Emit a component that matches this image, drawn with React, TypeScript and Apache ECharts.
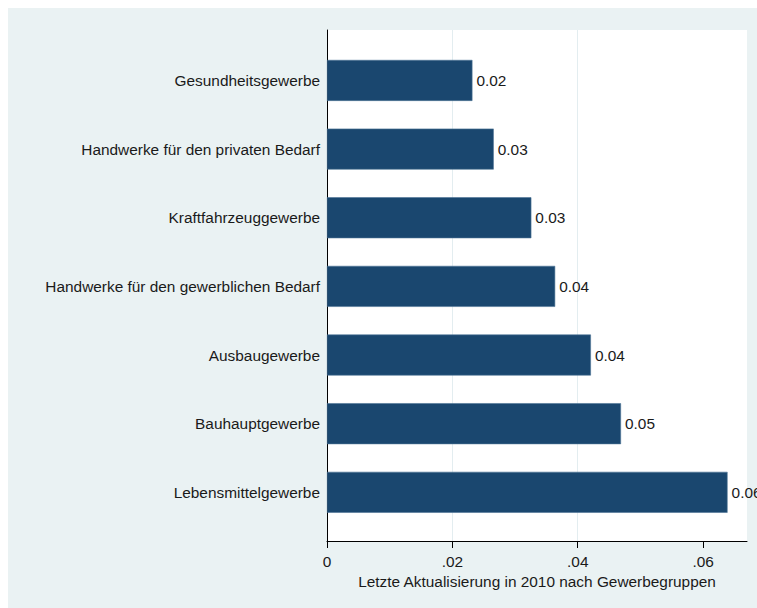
import React, { useEffect, useRef } from "react";
import * as echarts from "echarts";

const categories = [
  "Gesundheitsgewerbe",
  "Handwerke für den privaten Bedarf",
  "Kraftfahrzeuggewerbe",
  "Handwerke für den gewerblichen Bedarf",
  "Ausbaugewerbe",
  "Bauhauptgewerbe",
  "Lebensmittelgewerbe",
];
const values = [0.0232, 0.0266, 0.0326, 0.0364, 0.0421, 0.0469, 0.0639];
const tickValues = [0, 0.02, 0.04, 0.06];
const axisTitle = "Letzte Aktualisierung in 2010 nach Gewerbegruppen";

const FONT = "Liberation Sans, Arial, Helvetica, sans-serif";
const BG = "#EAF2F3";
const BAR = "#1A476F";
const FS = 15.4;

export default function App() {
  const ref = useRef<HTMLDivElement>(null);
  useEffect(() => {
    if (!ref.current) return;
    document.body.style.margin = "0";
    document.documentElement.style.overflow = "hidden";
    document.body.style.overflow = "hidden";
    const chart = echarts.init(ref.current, null, { renderer: "svg" });
    const gridLeft = 319;
    const gridTop = 22;
    const gridW = 420;
    const gridH = 511;
    const xMax = 0.067;
    const band = 68.65;
    const barTop = 38.1;
    chart.setOption({
      animation: false,
      backgroundColor: BG,
      grid: [
        {
          left: gridLeft,
          top: gridTop,
          width: gridW,
          height: gridH,
          show: true,
          backgroundColor: "#ffffff",
          borderWidth: 0,
        },
        {
          left: gridLeft,
          top: barTop,
          width: gridW,
          height: band * categories.length,
          show: false,
        },
      ],
      xAxis: [
        {
          gridIndex: 0,
          type: "value",
          min: 0,
          max: xMax,
          interval: 0.02,
          axisLine: { show: true, lineStyle: { color: "#000", width: 1 } },
          axisTick: {
            show: true,
            length: 7,
            lineStyle: { color: "#000" },
            customValues: tickValues,
          },
          axisLabel: {
            show: true,
            customValues: tickValues,
            margin: 13,
            fontFamily: FONT,
            fontSize: FS,
            color: "#1a1a1a",
            formatter: (v: number) =>
              v === 0 ? "0" : v.toFixed(2).replace(/^0/, ""),
          },
          splitLine: {
            show: true,
            showMinLine: false,
            showMaxLine: false,
            lineStyle: { color: "#E3EDF0", width: 1 },
          },
          name: axisTitle,
          nameLocation: "middle",
          nameGap: 30,
          nameTextStyle: { fontFamily: FONT, fontSize: FS, color: "#1a1a1a" },
        },
        {
          gridIndex: 1,
          type: "value",
          min: 0,
          max: xMax,
          show: false,
        },
      ],
      yAxis: [
        {
          gridIndex: 0,
          type: "value",
          min: 0,
          max: 1,
          axisLine: { show: true, lineStyle: { color: "#000", width: 1 } },
          axisTick: { show: false },
          axisLabel: { show: false },
          splitLine: { show: false },
        },
        {
          gridIndex: 1,
          type: "category",
          data: categories,
          inverse: true,
          axisLine: { show: false },
          axisTick: { show: false },
          axisLabel: {
            show: true,
            margin: 7,
            fontFamily: FONT,
            fontSize: FS,
            color: "#1a1a1a",
          },
          splitLine: { show: false },
        },
      ],
      series: [
        {
          type: "bar",
          xAxisIndex: 1,
          yAxisIndex: 1,
          data: values,
          barWidth: 41,
          itemStyle: { color: BAR, borderColor: "#4d7396", borderWidth: 0.6 },
          label: {
            show: true,
            position: "right",
            distance: 4,
            fontFamily: FONT,
            fontSize: FS,
            color: "#1a1a1a",
            formatter: (p: any) => Number(p.value).toFixed(2),
          },
          z: 3,
        },
      ],
    });
    return () => chart.dispose();
  }, []);
  return (
    <div style={{ padding: "8px 0 0 8px", width: 749, height: 600, background: "#fff" }}>
      <div ref={ref} style={{ width: 749, height: 600 }} />
    </div>
  );
}
